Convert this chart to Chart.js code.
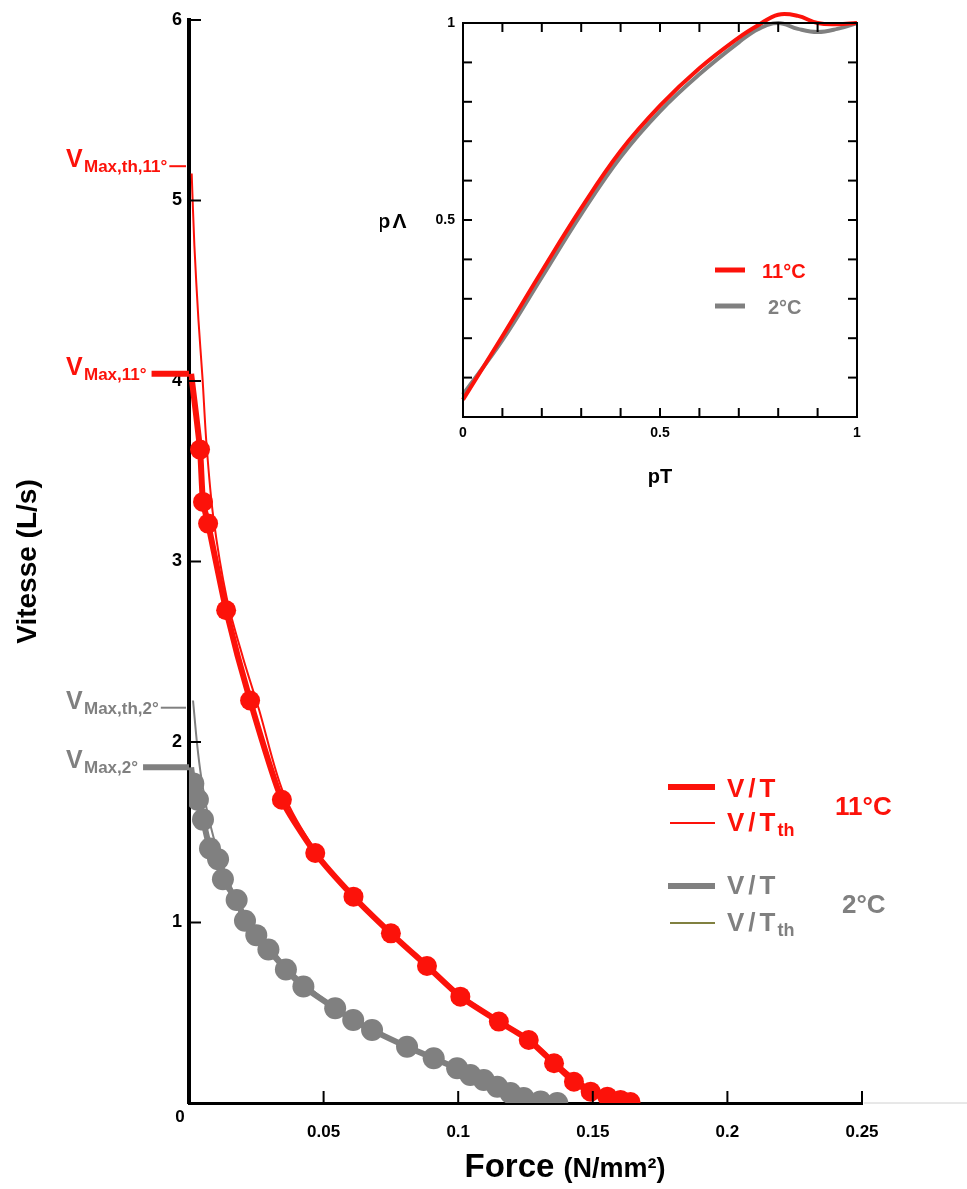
<!DOCTYPE html>
<html>
<head>
<meta charset="utf-8">
<script src="https://cdn.jsdelivr.net/npm/chart.js@4.4.0/dist/chart.umd.min.js"></script>
<style>
  body { margin: 0; background: #fff; }
  #wrap { position: relative; width: 967px; height: 1189px; }
  #main { position: absolute; left: 0; top: 0; }
  #inset { position: absolute; left: 380px; top: 0; }
</style>
</head>
<body>
<div id="wrap">
  <canvas id="main" width="967" height="1189"></canvas>
  <canvas id="inset" width="500" height="500"></canvas>
</div>
<script>
// --- data: main chart (Force N/mm², Vitesse L/s) ---
// 11°C measured
const redX = [0.0008, 0.0041, 0.0052, 0.0071, 0.0138, 0.0227, 0.0345, 0.0469, 0.0611, 0.0750, 0.0884, 0.1008, 0.1151, 0.1262, 0.1356, 0.1430, 0.1492, 0.1554, 0.1603, 0.1640];
const redY = [4.04, 3.62, 3.33, 3.21, 2.73, 2.23, 1.68, 1.385, 1.143, 0.940, 0.759, 0.589, 0.451, 0.349, 0.220, 0.118, 0.063, 0.035, 0.017, 0.005];
// 11°C theoretical
const redThX = [0.001, 0.002, 0.0035, 0.005, 0.0065, 0.009, 0.014, 0.020, 0.026, 0.035, 0.047, 0.061, 0.075, 0.088, 0.101, 0.115, 0.126, 0.136, 0.145, 0.155, 0.163];
const redThY = [5.15, 4.75, 4.34, 4.02, 3.65, 3.25, 2.80, 2.47, 2.18, 1.72, 1.40, 1.15, 0.95, 0.77, 0.60, 0.46, 0.36, 0.23, 0.12, 0.04, 0.0];
// 2°C measured
const greyX = [0.0008, 0.0016, 0.0033, 0.0052, 0.0078, 0.0108, 0.0126, 0.0177, 0.0208, 0.0250, 0.0295, 0.0360, 0.0425, 0.0543, 0.0610, 0.0680, 0.0810, 0.0909, 0.0996, 0.1045, 0.1095, 0.1145, 0.1194, 0.1243, 0.1306, 0.1368];
const greyY = [1.86, 1.77, 1.68, 1.57, 1.41, 1.35, 1.24, 1.125, 1.01, 0.93, 0.85, 0.74, 0.645, 0.525, 0.46, 0.404, 0.312, 0.248, 0.192, 0.155, 0.127, 0.09, 0.055, 0.028, 0.008, 0.0];
// 2°C theoretical
const greyThX = [0.0015, 0.003, 0.0045, 0.007, 0.011, 0.018, 0.026, 0.036, 0.048, 0.060, 0.075, 0.090, 0.105, 0.118, 0.128, 0.137];
const greyThY = [2.23, 1.99, 1.81, 1.60, 1.38, 1.12, 0.95, 0.76, 0.60, 0.48, 0.36, 0.25, 0.15, 0.07, 0.02, 0.0];

// VMax marks on the y axis
const vmaxSubs = ['Max,th,11°', 'Max,11°', 'Max,th,2°', 'Max,2°'];
const vmaxValues = [5.19, 4.04, 2.19, 1.86];

// --- data: inset (pT vs pΛ) ---
const pT = [0, 0.1, 0.2, 0.3, 0.4, 0.5, 0.6, 0.7, 0.75, 0.8, 0.85, 0.9, 0.95, 1.0];
const pL11 = [0.044, 0.205, 0.37, 0.53, 0.675, 0.79, 0.885, 0.963, 0.995, 1.021, 1.018, 1.0, 0.997, 1.0];
const pL2 = [0.057, 0.195, 0.355, 0.515, 0.66, 0.776, 0.87, 0.951, 0.985, 1.0, 0.985, 0.977, 0.985, 1.0];

const RED = 'rgb(252,18,10)';
const GREY = 'rgb(128,128,128)';
const OLIVE = 'rgb(128,128,64)';
const FONT = '"Liberation Sans", Arial, sans-serif';

function pts(xs, ys) { return xs.map((x, i) => ({x: x, y: ys[i]})); }

function txt(ctx, s, x, y, size, color, spacing, align) {
    ctx.font = 'bold ' + size + 'px ' + FONT;
    ctx.fillStyle = color;
    ctx.letterSpacing = (spacing || 0) + 'px';
    ctx.textAlign = align || 'left';
    ctx.textBaseline = 'alphabetic';
    ctx.fillText(s, x, y);
    const w = ctx.measureText(s).width;
    ctx.letterSpacing = '0px';
    return w;
}

function seg(ctx, x1, x2, y, w, color) {
    ctx.beginPath();
    ctx.strokeStyle = color;
    ctx.lineWidth = w;
    ctx.moveTo(x1, y);
    ctx.lineTo(x2, y);
    ctx.stroke();
}

// decorations for the main chart
const mainDecor = {
    id: 'mainDecor',
    afterDraw(chart) {
        const ctx = chart.ctx;
        const xs = chart.scales.x, ys = chart.scales.y;
        const area = chart.chartArea;
        ctx.save();
        // inward ticks
        ctx.strokeStyle = '#000';
        ctx.lineWidth = 2;
        ys.ticks.forEach(t => {
            if (t.value === 0) return;
            const y = ys.getPixelForValue(t.value);
            ctx.beginPath(); ctx.moveTo(area.left, y); ctx.lineTo(area.left + 12, y); ctx.stroke();
        });
        xs.ticks.forEach(t => {
            if (t.value === 0) return;
            const x = xs.getPixelForValue(t.value);
            ctx.beginPath(); ctx.moveTo(x, area.bottom); ctx.lineTo(x, area.bottom - 12); ctx.stroke();
        });
        // faint axis continuation
        seg(ctx, area.right + 2, chart.width, area.bottom, 1, '#d0d0d0');
        // shared origin label
        txt(ctx, '0', 180, 1122, 17, '#000', 0, 'center');

        // VMax marks
        vmaxSubs.forEach((sub, i) => {
            const y = ys.getPixelForValue(vmaxValues[i]);
            const col = i < 2 ? RED : GREY;
            const thick = sub.indexOf('th') < 0;
            txt(ctx, 'V', 66, y + 1, 25, col);
            const w = txt(ctx, sub, 84, y + 6, 17, col);
            seg(ctx, 84 + w + (thick ? 5 : 2), thick ? area.left : area.left - 3, y, thick ? 6 : 2, col);
        });

        // legend
        seg(ctx, 668, 715, 787, 6, RED);
        txt(ctx, 'V/T', 727, 797, 26, RED, 4);
        seg(ctx, 670, 715, 823, 2, RED);
        let w = txt(ctx, 'V/T', 727, 831, 26, RED, 4);
        txt(ctx, 'th', 727 + w - 2, 836, 18, RED);
        txt(ctx, '11°C', 835, 815, 26, RED);

        seg(ctx, 668, 715, 886, 6, GREY);
        txt(ctx, 'V/T', 727, 894, 26, GREY, 4);
        seg(ctx, 670, 715, 923, 2, OLIVE);
        w = txt(ctx, 'V/T', 727, 931, 26, GREY, 4);
        txt(ctx, 'th', 727 + w - 2, 936, 18, GREY);
        txt(ctx, '2°C', 842, 913, 26, GREY);

        // x axis title with mixed sizes
        const w1 = (ctx.font = 'bold 33px ' + FONT, ctx.measureText('Force ').width);
        const w2 = (ctx.font = 'bold 27px ' + FONT, ctx.measureText('(N/mm²)').width);
        const x0 = 565 - (w1 + w2) / 2;
        txt(ctx, 'Force ', x0, 1177, 33, '#000');
        txt(ctx, '(N/mm²)', x0 + w1, 1177, 27, '#000');
        ctx.restore();
    }
};

const mainChart = new Chart(document.getElementById('main'), {
    type: 'line',
    data: {
        datasets: [
            {
                label: 'V/T 11°C', data: pts(redX, redY),
                borderColor: RED, backgroundColor: RED, borderWidth: 6,
                pointRadius: ctx => ctx.dataIndex === 0 ? 0 : 10,
                pointBorderWidth: 0, tension: 0.2
            },
            {
                label: 'V/Tth 11°C', data: pts(redThX, redThY),
                borderColor: RED, borderWidth: 2, pointRadius: 0, tension: 0.3
            },
            {
                label: 'V/T 2°C', data: pts(greyX, greyY),
                borderColor: GREY, backgroundColor: GREY, borderWidth: 6,
                pointRadius: ctx => ctx.dataIndex === 0 ? 0 : 11,
                pointBorderWidth: 0, tension: 0.2
            },
            {
                label: 'V/Tth 2°C', data: pts(greyThX, greyThY),
                borderColor: GREY, borderWidth: 2, pointRadius: 0, tension: 0.3
            }
        ]
    },
    options: {
        responsive: false,
        animation: false,
        layout: {padding: {top: 20, right: 105, left: 0, bottom: 0}},
        plugins: {legend: {display: false}, tooltip: {enabled: false}},
        scales: {
            x: {
                type: 'linear', min: 0, max: 0.25,
                afterFit: s => { s.height = 86; },
                grid: {display: false, drawTicks: false},
                border: {color: '#000', width: 3},
                ticks: {
                    stepSize: 0.05, padding: 19, maxRotation: 0, autoSkip: false,
                    color: '#000', font: {family: FONT, weight: 'bold', size: 17},
                    callback: v => v === 0 ? '' : String(+v.toFixed(2))
                }
            },
            y: {
                type: 'linear', min: 0, max: 6,
                afterFit: s => { s.width = 189; },
                grid: {display: false, drawTicks: false},
                border: {color: '#000', width: 4},
                ticks: {
                    stepSize: 1, padding: 7,
                    color: '#000', font: {family: FONT, weight: 'bold', size: 18},
                    callback: v => v === 0 ? '' : v
                },
                title: {
                    display: true, text: 'Vitesse (L/s)', color: '#000',
                    font: {family: FONT, weight: 'bold', size: 28},
                    padding: {top: 11, bottom: 0}
                }
            }
        }
    },
    plugins: [mainDecor]
});

// decorations for the inset
const insetDecor = {
    id: 'insetDecor',
    afterDraw(chart) {
        const ctx = chart.ctx;
        const xs = chart.scales.x, ys = chart.scales.y;
        const a = chart.chartArea;
        ctx.save();
        ctx.strokeStyle = '#000';
        ctx.lineWidth = 2;
        ctx.strokeRect(a.left, a.top, a.right - a.left, a.bottom - a.top);
        xs.ticks.forEach(t => {
            if (t.value <= 0 || t.value >= 1) return;
            const x = xs.getPixelForValue(t.value);
            ctx.beginPath(); ctx.moveTo(x, a.bottom); ctx.lineTo(x, a.bottom - 9); ctx.stroke();
            ctx.beginPath(); ctx.moveTo(x, a.top); ctx.lineTo(x, a.top + 9); ctx.stroke();
        });
        ys.ticks.forEach(t => {
            if (t.value <= 0 || t.value >= 1) return;
            const y = ys.getPixelForValue(t.value);
            ctx.beginPath(); ctx.moveTo(a.left, y); ctx.lineTo(a.left + 9, y); ctx.stroke();
            ctx.beginPath(); ctx.moveTo(a.right, y); ctx.lineTo(a.right - 9, y); ctx.stroke();
        });
        // y title, horizontal
        txt(ctx, 'pΛ', 13, 228, 21, '#000', 2, 'center');
        // legend
        seg(ctx, 335, 365, 270, 5, RED);
        txt(ctx, '11°C', 382, 278, 20, RED);
        seg(ctx, 335, 365, 306, 5, GREY);
        txt(ctx, '2°C', 388, 314, 20, GREY);
        ctx.restore();
    }
};

function insetLabel(v) {
    if (Math.abs(v) < 1e-9) return '0';
    if (Math.abs(v - 0.5) < 1e-9) return '0.5';
    if (Math.abs(v - 1) < 1e-9) return '1';
    return '';
}

const insetChart = new Chart(document.getElementById('inset'), {
    type: 'line',
    data: {
        datasets: [
            {label: '11°C', data: pts(pT, pL11), borderColor: RED, borderWidth: 4, pointRadius: 0, clip: false, tension: 0.4},
            {label: '2°C', data: pts(pT, pL2), borderColor: GREY, borderWidth: 4, pointRadius: 0, clip: false, tension: 0.4}
        ]
    },
    options: {
        responsive: false,
        animation: false,
        layout: {padding: {top: 23, right: 23, left: 0, bottom: 0}},
        plugins: {legend: {display: false}, tooltip: {enabled: false}},
        scales: {
            x: {
                type: 'linear', min: 0, max: 1,
                afterFit: s => { s.height = 83; },
                grid: {display: false, drawTicks: false},
                border: {color: '#000', width: 2},
                ticks: {
                    stepSize: 0.1, padding: 8, autoSkip: false, maxRotation: 0,
                    color: '#000', font: {family: FONT, weight: 'bold', size: 14},
                    callback: insetLabel
                },
                title: {
                    display: true, text: 'pT', color: '#000',
                    font: {family: FONT, weight: 'bold', size: 20},
                    padding: {top: 0, bottom: 11}
                }
            },
            y: {
                type: 'linear', min: 0, max: 1,
                afterFit: s => { s.width = 83; },
                grid: {display: false, drawTicks: false},
                border: {color: '#000', width: 2},
                ticks: {
                    stepSize: 0.1, padding: 8, autoSkip: false,
                    color: '#000', font: {family: FONT, weight: 'bold', size: 14},
                    callback: v => v === 0 ? '' : insetLabel(v)
                }
            }
        }
    },
    plugins: [insetDecor]
});
</script>
</body>
</html>
